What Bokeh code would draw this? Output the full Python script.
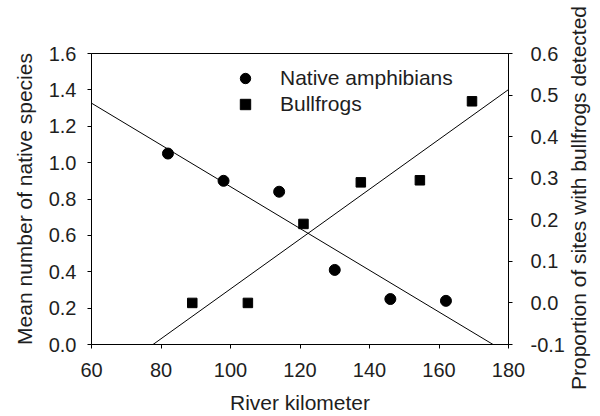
import numpy as np
from math import pi
from bokeh.plotting import figure
from bokeh.models import Range1d, LinearAxis, FixedTicker, PrintfTickFormatter, Legend, LegendItem, Label
from bokeh.embed import file_html
from bokeh.resources import INLINE

# ---- data ----
km_native = [82, 98, 114, 130, 146, 162]
native_species = [1.05, 0.90, 0.84, 0.41, 0.25, 0.24]
km_bull = [89, 105, 121, 137.5, 154.5, 169.5]
bullfrog_prop = [0.0, 0.0, 0.19, 0.29, 0.295, 0.485]
x_ticks = [60, 80, 100, 120, 140, 160, 180]
left_ticks = [0.0, 0.2, 0.4, 0.6, 0.8, 1.0, 1.2, 1.4, 1.6]
right_ticks = [-0.1, 0.0, 0.1, 0.2, 0.3, 0.4, 0.5, 0.6]
x_title = "River kilometer"
left_title = "Mean number of native species"
right_title = "Proportion of sites with bullfrogs detected"

FONT = "Liberation Sans"
FS = "20px"      # tick labels
TS = "21px"      # titles and legend
TXT = "#1e1e1e"

p = figure(width=600, height=416, output_backend="svg", toolbar_location=None,
           x_range=Range1d(60, 180), y_range=Range1d(0, 1.6),
           min_border_left=91, min_border_right=92, min_border_top=53, min_border_bottom=71)
p.extra_y_ranges = {"bull": Range1d(-0.1, 0.6)}
p.xgrid.visible = False
p.ygrid.visible = False
p.outline_line_color = "black"
p.outline_line_width = 1
p.background_fill_color = "white"
p.border_fill_color = "white"

def style_axis(ax, ticks, fmt, standoff, label=None, label_standoff=0):
    ax.ticker = FixedTicker(ticks=ticks)
    ax.formatter = PrintfTickFormatter(format=fmt)
    ax.minor_tick_line_color = None
    ax.major_tick_in = 0
    ax.major_tick_out = 4
    ax.major_tick_line_color = "black"
    ax.axis_line_color = "black"
    ax.major_label_text_font = FONT
    ax.major_label_text_font_size = FS
    ax.major_label_text_color = TXT
    ax.major_label_standoff = standoff
    if label is not None:
        ax.axis_label = label
        ax.axis_label_text_font = FONT
        ax.axis_label_text_font_size = TS
        ax.axis_label_text_font_style = "normal"
        ax.axis_label_text_color = TXT
        ax.axis_label_standoff = label_standoff

style_axis(p.xaxis[0], x_ticks, "%d", 14, x_title, 11)
style_axis(p.yaxis[0], left_ticks, "%.1f", 11, left_title, 10)

right = LinearAxis(y_range_name="bull")
style_axis(right, right_ticks, "%.1f", 18)
p.add_layout(right, "right")

# right-hand title, reading bottom to top, placed in the right side panel
p.add_layout(Label(text=right_title, x=11, y=146.5, x_units="screen", y_units="screen",
                   angle=pi / 2, angle_units="rad", text_align="center",
                   text_baseline="alphabetic", text_font=FONT, text_font_size=TS,
                   text_color=TXT), "right")

# regression lines fitted to the read values
xs = np.array([60.0, 180.0])
a1, b1 = np.polyfit(km_native, native_species, 1)
a2, b2 = np.polyfit(km_bull, bullfrog_prop, 1)
p.line(xs, a1 * xs + b1, line_color="black", line_width=1)
p.line(xs, a2 * xs + b2, line_color="black", line_width=1, y_range_name="bull")

r1 = p.scatter(km_native, native_species, marker="circle", size=11,
               fill_color="black", line_color="black")
r2 = p.scatter(km_bull, bullfrog_prop, marker="square", size=9.5,
               fill_color="black", line_color="black", y_range_name="bull")

legend = Legend(items=[LegendItem(label="Native amphibians", renderers=[r1]),
                       LegendItem(label="Bullfrogs", renderers=[r2])],
                location=(141, 227), padding=0, margin=0, spacing=0,
                glyph_width=26, glyph_height=26, label_height=26, label_standoff=22,
                label_text_font=FONT, label_text_font_size=TS, label_text_color=TXT,
                border_line_color=None, background_fill_alpha=0)
p.add_layout(legend)

open("out.html", "w").write(file_html(p, INLINE))
